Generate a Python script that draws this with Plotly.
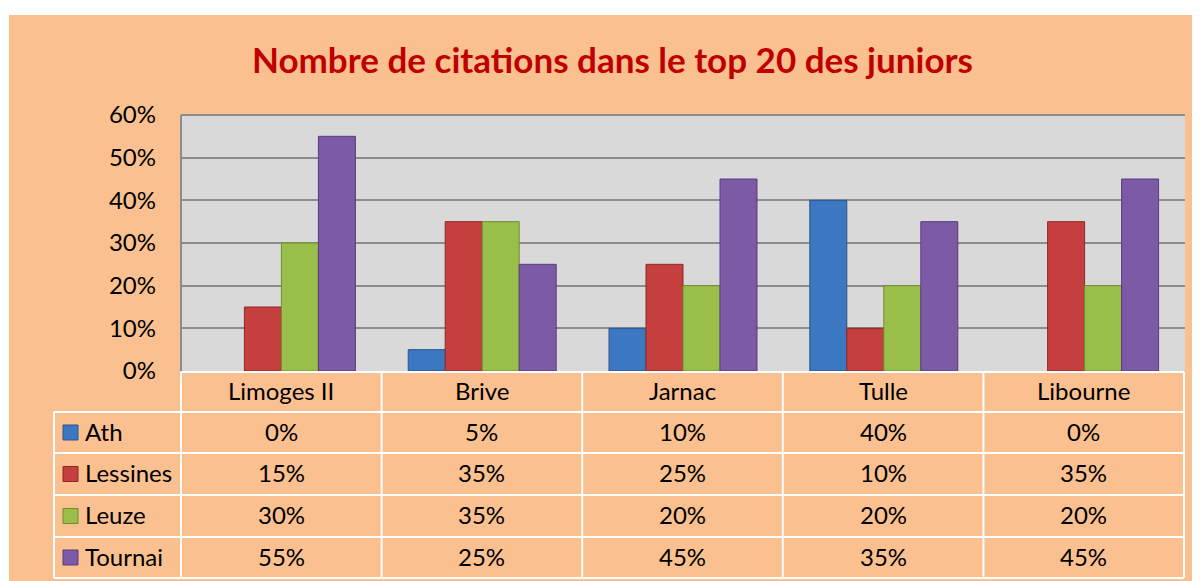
import plotly.graph_objects as go

categories = ["Limoges II", "Brive", "Jarnac", "Tulle", "Libourne"]
series_names = ["Ath", "Lessines", "Leuze", "Tournai"]
ath = [0.00, 0.05, 0.10, 0.40, 0.00]
lessines = [0.15, 0.35, 0.25, 0.10, 0.35]
leuze = [0.30, 0.35, 0.20, 0.20, 0.20]
tournai = [0.55, 0.25, 0.45, 0.35, 0.45]
series_values = [ath, lessines, leuze, tournai]
y_ticks = [0, 0.1, 0.2, 0.3, 0.4, 0.5, 0.6]

fills = ["#3C77C2", "#C43F3D", "#99BF4A", "#7D5AA6"]
edges = ["#29558F", "#8E2826", "#6E8E30", "#573C7C"]

OFF = 8  # page body margin in the browser
W, H = 1200 - OFF, 581 - OFF
L, R, T, B = 181 - OFF, 1185 - OFF, 115 - OFF, 371 - OFF  # plot area pixels (figure-local)
FONT = "Lato"
FS = 24

def px(x):
    return (x - OFF - L) / (R - L)

def py(y):
    return (B - (y - OFF)) / (B - T)

fig = go.Figure()
for name, vals, f, e in zip(series_names, series_values, fills, edges):
    fig.add_trace(go.Bar(
        x=categories, y=vals, name=name,
        marker=dict(color=f, line=dict(color=e, width=[0 if v == 0 else 1 for v in vals])),
        showlegend=False, hoverinfo="x+y+name",
    ))

shapes = []
annotations = []
shapes.append(dict(type="rect", xref="paper", yref="paper", x0=px(0), x1=px(1300), y0=py(0), y1=py(15),
                   fillcolor="white", line=dict(width=0), layer="above"))
shapes.append(dict(type="rect", xref="paper", yref="paper", x0=px(0), x1=px(9), y0=py(0), y1=py(700),
                   fillcolor="white", line=dict(width=0), layer="above"))
shapes.append(dict(type="line", xref="paper", yref="paper", x0=0, x1=1, y0=1, y1=1,
                   line=dict(color="#8C8C8C", width=2)))
shapes.append(dict(type="line", xref="paper", yref="paper", x0=0, x1=0, y0=0, y1=1,
                   line=dict(color="#8C8C8C", width=2)))

rl, rr = 181, 1184
col_edges = [rl + i * (rr - rl) / len(categories) for i in range(len(categories) + 1)]
row_edges = [372, 412, 453, 495, 537, 578]
tbl_left = 54
white = dict(color="white", width=2)
shapes.append(dict(type="line", xref="paper", yref="paper", x0=px(rl), x1=px(rr),
                   y0=py(row_edges[0]), y1=py(row_edges[0]), line=white))
for ry in row_edges[1:]:
    shapes.append(dict(type="line", xref="paper", yref="paper", x0=px(tbl_left), x1=px(rr),
                       y0=py(ry), y1=py(ry), line=white))
shapes.append(dict(type="line", xref="paper", yref="paper", x0=px(tbl_left), x1=px(tbl_left),
                   y0=py(row_edges[1]), y1=py(row_edges[-1]), line=white))
for cx in col_edges:
    shapes.append(dict(type="line", xref="paper", yref="paper", x0=px(cx), x1=px(cx),
                       y0=py(row_edges[0]), y1=py(row_edges[-1]), line=white))

txt_font = dict(family=FONT, size=FS, color="black")
DY = 1.5  # lift text slightly within cells
for i, c in enumerate(categories):
    xc = (col_edges[i] + col_edges[i + 1]) / 2
    yc = (row_edges[0] + row_edges[1]) / 2 - DY
    annotations.append(dict(xref="paper", yref="paper", x=px(xc), y=py(yc), text=c, showarrow=False,
                            xanchor="center", yanchor="middle", font=txt_font))
for r, (name, vals) in enumerate(zip(series_names, series_values)):
    y0, y1 = row_edges[r + 1], row_edges[r + 2]
    yc = (y0 + y1) / 2
    shapes.append(dict(type="rect", xref="paper", yref="paper", x0=px(63), x1=px(78),
                       y0=py(yc - 7.5), y1=py(yc + 7.5), fillcolor=fills[r],
                       line=dict(color=edges[r], width=1), layer="above"))
    annotations.append(dict(xref="paper", yref="paper", x=px(83), y=py(yc - DY), text=name, showarrow=False,
                            xanchor="left", yanchor="middle", font=txt_font))
    for i, v in enumerate(vals):
        xc = (col_edges[i] + col_edges[i + 1]) / 2
        annotations.append(dict(xref="paper", yref="paper", x=px(xc), y=py(yc - DY), text=f"{round(v*100)}%",
                                showarrow=False, xanchor="center", yanchor="middle", font=txt_font))

annotations.append(dict(xref="paper", yref="paper", x=px(612), y=py(59),
                        text="<b>Nombre de citations dans le top 20 des juniors</b>", showarrow=False,
                        xanchor="center", yanchor="middle", font=dict(family=FONT, size=35, color="#C00000")))

fig.update_layout(
    width=W, height=H,
    margin=dict(l=L, r=W - R, t=T, b=H - B, pad=0),
    paper_bgcolor="#FAC090",
    plot_bgcolor="#D9D9D9",
    barmode="group", bargap=0.263, bargroupgap=0,
    shapes=shapes, annotations=annotations,
    font=dict(family=FONT, size=FS, color="black"),
)
fig.update_xaxes(showticklabels=False, showgrid=False, zeroline=False, showline=False, ticks="")
fig.update_yaxes(range=[0, 0.6], tickvals=y_ticks, tickformat=".0%", showgrid=True,
                 gridcolor="#8C8C8C", gridwidth=2, zeroline=False, showline=False,
                 ticks="", ticklabelstandoff=24, tickfont=txt_font)

fig.write_html("out.html")
